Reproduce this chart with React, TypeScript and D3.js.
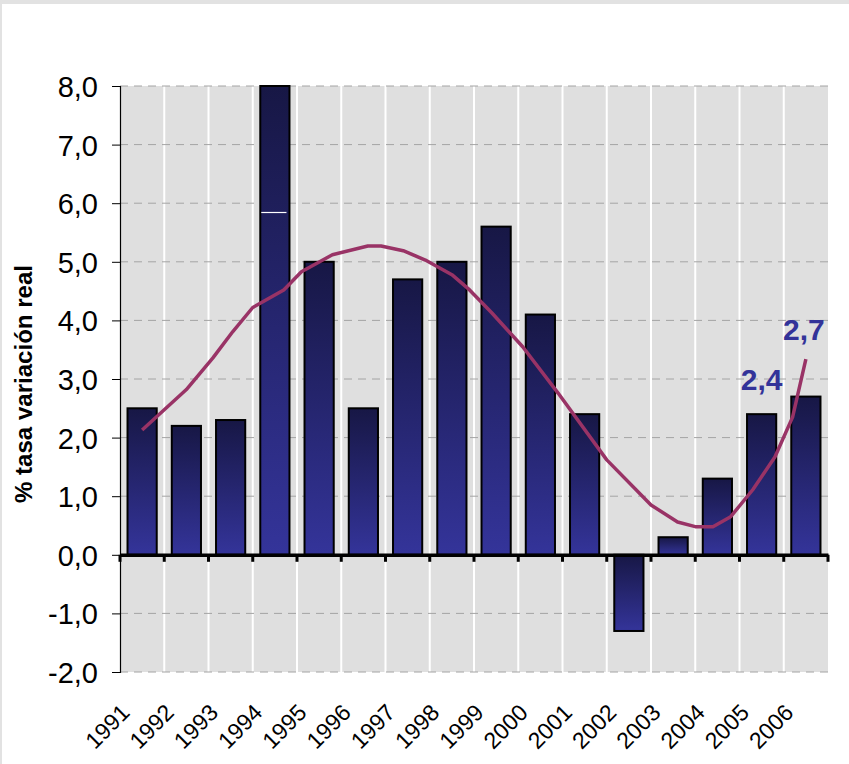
import React, { useEffect, useRef } from 'react';
import * as d3 from 'd3';

const years = ['1991', '1992', '1993', '1994', '1995', '1996', '1997', '1998', '1999', '2000', '2001', '2002', '2003', '2004', '2005', '2006'];
const growth = [2.5, 2.2, 2.3, 8.0, 5.0, 2.5, 4.7, 5.0, 5.6, 4.1, 2.4, -1.3, 0.3, 1.3, 2.4, 2.7];
const yTicks = [-2, -1, 0, 1, 2, 3, 4, 5, 6, 7, 8];

// trend line (polynomial fit as drawn in the source), x in year units
const trendYear = [1991.0, 1992.0, 1992.6, 1993.05, 1993.5, 1994.2, 1994.6, 1995.3, 1996.1, 1996.4, 1996.9, 1997.4, 1998.0, 1998.4, 1998.9, 1999.6, 2000.4, 2001.5, 2002.5, 2003.1, 2003.5, 2003.9, 2004.3, 2004.8, 2005.3, 2005.7, 2006.0];
const trendValue = [2.13, 2.82, 3.36, 3.81, 4.22, 4.52, 4.83, 5.12, 5.27, 5.27, 5.19, 5.03, 4.78, 4.52, 4.13, 3.55, 2.76, 1.62, 0.85, 0.56, 0.48, 0.48, 0.65, 1.11, 1.67, 2.35, 3.34];

const callouts = [
  { year: '2005', text: '2,4', dx: 0, dy: -24 },
  { year: '2006', text: '2,7', dx: -2, dy: -57 },
];

const fmt = (v: number) => v.toFixed(1).replace('.', ',');
const FONT = 'Arial, "Liberation Sans", sans-serif';

const App = () => {
  const ref = useRef<SVGSVGElement | null>(null);

  useEffect(() => {
    if (!ref.current) return;
    const svg = d3.select(ref.current);
    svg.selectAll('*').remove();

    const width = 849;
    const height = 764;
    const margin = { top: 86, right: 21, bottom: 92, left: 120 };
    const innerW = width - margin.left - margin.right;
    const innerH = height - margin.top - margin.bottom;

    // outer frame
    svg.append('rect').attr('width', width).attr('height', height).attr('fill', '#e2e2e2');
    svg.append('rect').attr('x', 2).attr('y', 4).attr('width', width - 2).attr('height', height - 4).attr('fill', '#fff');

    const defs = svg.append('defs');
    const grad = defs.append('linearGradient').attr('id', 'barGrad').attr('x1', 0).attr('y1', 0).attr('x2', 0).attr('y2', 1);
    grad.append('stop').attr('offset', '0%').attr('stop-color', '#171745');
    grad.append('stop').attr('offset', '100%').attr('stop-color', '#34349a');

    const g = svg.append('g').attr('transform', `translate(${margin.left},${margin.top})`);

    const x = d3.scaleBand().domain(years).range([0, innerW]).paddingInner(0).paddingOuter(0);
    const y = d3.scaleLinear().domain([-2, 8]).range([innerH, 0]);
    const bw = x.bandwidth();
    const xt = d3.scaleLinear()
      .domain([1991, 2006])
      .range([(x('1991') as number) + bw / 2, (x('2006') as number) + bw / 2]);

    // plot background
    g.append('rect').attr('width', innerW).attr('height', innerH).attr('fill', '#dfdfdf');

    // white column separators
    g.selectAll('.sep')
      .data(years.slice(1))
      .enter().append('line')
      .attr('x1', (d) => x(d) as number)
      .attr('x2', (d) => x(d) as number)
      .attr('y1', 0)
      .attr('y2', innerH)
      .attr('stroke', '#fff')
      .attr('stroke-width', 2);

    // dashed horizontal grid
    g.selectAll('.grid')
      .data(yTicks.filter((t) => t !== 0))
      .enter().append('line')
      .attr('x1', 0)
      .attr('x2', innerW)
      .attr('y1', (d) => y(d))
      .attr('y2', (d) => y(d))
      .attr('stroke', '#a4a4a4')
      .attr('stroke-width', 1)
      .attr('stroke-dasharray', '8,6');

    // bars
    const barW = bw * 0.66;
    g.selectAll('.bar')
      .data(growth)
      .enter().append('rect')
      .attr('x', (d, i) => (x(years[i]) as number) + (bw - barW) / 2)
      .attr('y', (d) => y(Math.max(0, d)))
      .attr('width', barW)
      .attr('height', (d) => Math.abs(y(d) - y(0)))
      .attr('fill', 'url(#barGrad)')
      .attr('stroke', '#000')
      .attr('stroke-width', 2);

    // break mark inside the 1994 bar
    g.append('line')
      .attr('x1', (x('1994') as number) + (bw - barW) / 2 + 1)
      .attr('x2', (x('1994') as number) + (bw + barW) / 2 - 3)
      .attr('y1', Math.round(y(5.85)) + 0.5)
      .attr('y2', Math.round(y(5.85)) + 0.5)
      .attr('stroke', '#fff')
      .attr('stroke-width', 1.2);

    // y axis
    const yAxis = g.append('g')
      .call(d3.axisLeft(y).tickValues(yTicks).tickSize(8).tickPadding(14).tickFormat((d) => fmt(d as number)));
    yAxis.select('.domain').attr('stroke', '#000').attr('stroke-width', 1.2);
    yAxis.selectAll('.tick line').attr('stroke', '#000');
    yAxis.selectAll('text')
      .attr('fill', '#000')
      .attr('dy', '0.36em')
      .style('font-family', FONT)
      .style('font-size', '29px');

    // x axis along zero
    const xAxis = g.append('g')
      .attr('transform', `translate(0,${y(0)})`)
      .call(d3.axisBottom(x).tickSize(0).tickFormat(() => ''));
    xAxis.select('.domain').attr('stroke', '#000').attr('stroke-width', 3.5);
    xAxis.selectAll('.tick').remove();
    g.selectAll('.xtick')
      .data(d3.range(years.length + 1))
      .enter().append('line')
      .attr('x1', (d) => d * bw)
      .attr('x2', (d) => d * bw)
      .attr('y1', y(0))
      .attr('y2', y(0) + 7)
      .attr('stroke', '#000')
      .attr('stroke-width', 3);

    // year labels
    g.selectAll('.xlabel')
      .data(years)
      .enter().append('text')
      .attr('transform', (d) => `translate(${(x(d) as number) + bw / 2 - 11},${innerH + 42}) rotate(-45)`)
      .attr('text-anchor', 'end')
      .attr('fill', '#000')
      .style('font-family', FONT)
      .style('font-size', '23px')
      .text((d) => d);

    // trend line
    const line = d3.line<number>()
      .x((d, i) => xt(trendYear[i]))
      .y((d) => y(d))
      .curve(d3.curveLinear);
    g.append('path')
      .datum(trendValue)
      .attr('d', line)
      .attr('fill', 'none')
      .attr('stroke', '#993366')
      .attr('stroke-width', 3.5)
      .attr('stroke-linejoin', 'round');

    // value callouts
    g.selectAll('.callout')
      .data(callouts)
      .enter().append('text')
      .attr('x', (d) => (x(d.year) as number) + bw / 2 + d.dx)
      .attr('y', (d) => y(growth[years.indexOf(d.year)]) + d.dy)
      .attr('text-anchor', 'middle')
      .attr('fill', '#333399')
      .style('font-family', FONT)
      .style('font-weight', 'bold')
      .style('font-size', '30px')
      .text((d) => d.text);

    // y axis title
    svg.append('text')
      .attr('transform', 'translate(32,384) rotate(-90)')
      .attr('text-anchor', 'middle')
      .attr('fill', '#000')
      .attr('textLength', 238)
      .attr('lengthAdjust', 'spacingAndGlyphs')
      .style('font-family', FONT)
      .style('font-weight', 'bold')
      .style('font-size', '23px')
      .text('% tasa variación real');
  }, []);

  return (
    <svg
      ref={ref}
      width={849}
      height={764}
      style={{ position: 'absolute', left: 0, top: 0, display: 'block' }}
    />
  );
};

export default App;
